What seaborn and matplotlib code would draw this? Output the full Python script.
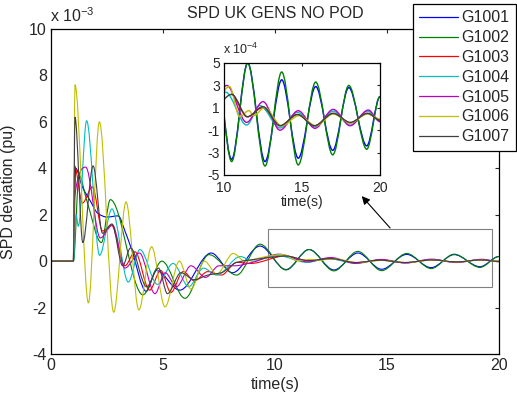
import numpy as np
import pandas as pd
import matplotlib
matplotlib.use("Agg")
import matplotlib.pyplot as plt
import seaborn as sns
from matplotlib.patches import Rectangle, PathPatch
from matplotlib.path import Path
from matplotlib.lines import Line2D

# ---- data (values in units of 1e-3 pu) ----
gens = ["G1001", "G1002", "G1003", "G1004", "G1005", "G1006", "G1007"]

t_g1001 = [0, 1.0, 1.1, 1.4, 1.75, 2.1, 2.5, 3.0, 3.3, 3.6, 4.25, 4.7, 5.75, 7.15, 8.1, 9.33, 10.49, 11.52, 12.63, 13.7, 14.76, 15.88, 16.97, 18.0, 19.15, 20.0]
v_g1001 = [0, 0, 4.0, 3.2, 2.6, 2.05, 1.9, 1.95, 1.3, 0.5, -1.3, -0.4, -1.25, 0.35, -0.5, 0.65, -0.36, 0.5, -0.38, 0.35, -0.35, 0.29, -0.28, 0.28, -0.24, 0.2]

t_g1002 = [0, 1.0, 1.25, 1.6, 2.25, 2.65, 4.1, 4.95, 5.98, 7.05, 8.29, 9.33, 10.49, 11.52, 12.63, 13.7, 14.76, 15.88, 16.97, 18.0, 19.15, 20.0]
v_g1002 = [0, 0, 3.7, 2.6, 0.8, 2.65, -1.45, 0.0, -1.6, 0.28, -0.6, 0.73, -0.38, 0.5, -0.42, 0.42, -0.41, 0.33, -0.32, 0.3, -0.27, 0.2]

t_g1003 = [0, 1.0, 1.05, 1.4, 1.85, 2.3, 2.7, 3.3, 3.75, 4.4, 4.9, 5.35, 5.9, 6.4, 7.0, 7.6, 8.3, 8.9, 10.45, 11.5, 12.45, 13.6, 14.7, 15.8, 17.0, 18.1, 19.2, 20.0]
v_g1003 = [0, 0, 4.1, 2.5, 3.2, 1.3, 1.55, -0.2, 0.4, -1.25, -0.4, -1.35, -0.45, -0.85, -0.45, -0.6, -0.05, -0.1, 0.22, 0.02, 0.1, -0.06, 0.04, -0.06, 0.05, -0.035, 0.05, -0.01]

t_g1004 = [0, 1.0, 1.12, 1.22, 1.59, 2.17, 2.72, 3.45, 3.97, 4.75, 5.45, 6.15, 6.8, 7.4, 8.45, 9.0, 10.1, 11.45, 12.3, 13.6, 14.7, 15.8, 17.0, 18.1, 19.2, 20.0]
v_g1004 = [0, 0, 2.0, 1.5, 6.05, 0.25, 2.25, -0.9, 0.5, -1.0, -0.1, -1.1, -0.3, -0.6, 0.2, 0.0, 0.24, -0.054, 0.12, -0.08, 0.06, -0.07, 0.07, -0.055, 0.07, -0.02]

t_g1005 = [0, 1.0, 1.02, 1.55, 2.2, 2.75, 3.3, 3.95, 4.64, 5.1, 5.6, 6.25, 6.9, 7.5, 8.2, 9.0, 10.17, 11.45, 12.5, 13.59, 14.76, 15.83, 17.0, 18.08, 19.25, 20.0]
v_g1005 = [0, 0, 2.5, 4.05, 1.0, 1.55, -0.3, 0.35, -1.4, -0.5, -1.1, -0.2, -0.7, -0.2, -0.2, -0.05, 0.30, -0.03, 0.155, -0.10, 0.074, -0.083, 0.086, -0.06, 0.08, -0.024]

t_g1006 = [0, 1.0, 1.07, 1.67, 2.16, 2.8, 3.35, 3.92, 4.49, 5.09, 5.73, 6.25, 6.85, 7.4, 8.14, 8.66, 9.4, 10.35, 11.0, 11.6, 11.9, 12.6, 13.7, 14.8, 15.9, 17.0, 18.1, 19.2, 20.0]
v_g1006 = [0, 0, 7.6, -1.8, 6.0, -2.2, 2.55, -2.1, 0.62, -1.97, 0.0, -1.2, 0.0, -0.55, 0.33, 0.0, 0.16, 0.29, 0.02, 0.075, 0.03, 0.1, -0.06, 0.03, -0.06, 0.045, -0.035, 0.045, 0.0]

t_g1007 = [0, 1.0, 1.07, 1.42, 1.88, 2.3, 2.72, 3.2, 3.55, 4.27, 4.8, 5.2, 5.8, 6.4, 7.0, 7.6, 8.3, 9.3, 10.5, 11.5, 12.5, 13.6, 14.7, 15.8, 17.0, 18.1, 19.2, 20.0]
v_g1007 = [0, 0, 6.2, 0.8, 4.1, 1.2, 1.6, -0.2, 0.57, -1.1, -0.3, -1.4, -0.5, -0.8, -0.6, -0.5, -0.05, 0.1, 0.22, 0.02, 0.11, -0.06, 0.04, -0.06, 0.05, -0.03, 0.05, -0.01]

times = [t_g1001, t_g1002, t_g1003, t_g1004, t_g1005, t_g1006, t_g1007]
values = [v_g1001, v_g1002, v_g1003, v_g1004, v_g1005, v_g1006, v_g1007]

colors = ["#0000ff", "#008000", "#ff0000", "#00bfbf", "#bf00bf", "#bfbf00", "#404040"]

x_ticks = [0, 5, 10, 15, 20]
y_ticks = [-4, -2, 0, 2, 4, 6, 8, 10]
inset_x_ticks = [10, 15, 20]
inset_y_ticks = [-5, -3, -1, 1, 3, 5]

rows = []
for g, ts, vs in zip(gens, times, values):
    for t, v in zip(ts, vs):
        rows.append((g, t, v))
df = pd.DataFrame(rows, columns=["gen", "time", "value"])
df["value_e4"] = df["value"] * 10.0


def smooth_lines(axis, lw):
    """Render each seaborn line as a smooth Bezier path through its own data points
    (horizontal tangents at the read extrema), drawn in the axis data coordinates."""
    for ln in list(axis.get_lines()):
        x = np.asarray(ln.get_xdata(), float)
        y = np.asarray(ln.get_ydata(), float)
        if len(x) < 3:
            continue
        h = np.diff(x)
        d = np.diff(y) / h
        m = np.zeros_like(y)
        for i in range(1, len(x) - 1):
            if d[i - 1] * d[i] > 0:
                w1 = 2 * h[i] + h[i - 1]
                w2 = h[i] + 2 * h[i - 1]
                m[i] = (w1 + w2) / (w1 / d[i - 1] + w2 / d[i])
        verts = [(x[0], y[0])]
        codes = [Path.MOVETO]
        for i in range(len(x) - 1):
            verts += [(x[i] + h[i] / 3, y[i] + m[i] * h[i] / 3),
                      (x[i + 1] - h[i] / 3, y[i + 1] - m[i + 1] * h[i] / 3),
                      (x[i + 1], y[i + 1])]
            codes += [Path.CURVE4] * 3
        patch = PathPatch(Path(verts, codes), facecolor="none", edgecolor=ln.get_color(),
                          linewidth=lw, transform=axis.transData, zorder=ln.get_zorder())
        axis.add_patch(patch)
        ln.set_visible(False)


# ---- figure ----
sns.set_style("white")
plt.rcParams["font.family"] = ["Liberation Sans", "DejaVu Sans"]
plt.rcParams["mathtext.fontset"] = "custom"
plt.rcParams["mathtext.rm"] = "Liberation Sans"
plt.rcParams["mathtext.it"] = "Liberation Sans"

W, H = 517, 403
FS = 11.5
fig = plt.figure(figsize=(W / 100, H / 100), dpi=100)


def fb(l, t, r, b):
    return [l / W, 1 - b / H, (r - l) / W, (b - t) / H]


ax = fig.add_axes(fb(51, 29, 499, 354))
pal = dict(zip(gens, colors))
sns.lineplot(data=df, x="time", y="value", hue="gen", hue_order=gens, palette=pal,
             estimator=None, sort=False, linewidth=0.8, ax=ax, legend=False)
smooth_lines(ax, 0.8)
ax.set_xlim(0, 20)
ax.set_ylim(-4, 10)
ax.set_xticks(x_ticks)
ax.set_yticks(y_ticks)
ax.set_xticklabels([str(v) for v in x_ticks])
ax.set_yticklabels([str(v) for v in y_ticks])
ax.tick_params(direction="in", top=True, right=True, length=3, labelsize=FS, width=0.8, pad=3)
for s in ax.spines.values():
    s.set_linewidth(0.9)
    s.set_color("black")
ax.set_xlabel("time(s)", fontsize=FS, labelpad=3)
ax.set_ylabel("SPD deviation (pu)", fontsize=FS)
ax.yaxis.set_label_coords((16 - 51) / 448, 0.5)
fig.text(50 / W, 1 - 22 / H, r"x 10$^{-3}$", fontsize=FS, ha="left", va="baseline")
ax.set_title("SPD UK GENS NO POD", fontsize=FS, pad=8)

# zoom rectangle and arrow
ax.add_patch(Rectangle((9.7, -1.12), 10.0, 2.5, fill=False, edgecolor="#808080", linewidth=0.8))
ax.annotate("", xy=(13.79, 2.89), xytext=(15.22, 1.34),
            arrowprops=dict(arrowstyle="-|>", color="black", lw=0.8, mutation_scale=12))

handles = [Line2D([], [], color=c, linewidth=0.9) for c in colors]
leg = ax.legend(handles, gens, loc="upper right", bbox_to_anchor=(516 / W, 1 - 4 / H),
                bbox_transform=fig.transFigure, fontsize=FS, frameon=True, fancybox=False,
                framealpha=1, edgecolor="black", handlelength=2.45, labelspacing=0.3,
                borderpad=0.4, handletextpad=0.2, borderaxespad=0)
leg.get_frame().set_linewidth(0.9)

# inset
axi = fig.add_axes(fb(224, 63, 380, 175))
sns.lineplot(data=df[df["time"] >= 9.0], x="time", y="value_e4", hue="gen", hue_order=gens,
             palette=pal, estimator=None, sort=False, linewidth=1.0, ax=axi, legend=False)
smooth_lines(axi, 1.0)
axi.set_xlim(10, 20)
axi.set_ylim(-5, 5)
axi.set_xticks(inset_x_ticks)
axi.set_yticks(inset_y_ticks)
axi.set_xticklabels([str(v) for v in inset_x_ticks])
axi.set_yticklabels([str(v) for v in inset_y_ticks])
axi.tick_params(direction="in", top=True, right=True, length=2.5, labelsize=10, width=0.8)
axi.tick_params(axis="x", pad=4)
axi.tick_params(axis="y", pad=3)
for s in axi.spines.values():
    s.set_linewidth(0.9)
    s.set_color("black")
axi.set_xlabel("time(s)", fontsize=10, labelpad=0)
axi.set_ylabel("")
fig.text(223 / W, 1 - 54 / H, r"x 10$^{-4}$", fontsize=9, ha="left", va="baseline")

fig.savefig("out.png", dpi=100)
